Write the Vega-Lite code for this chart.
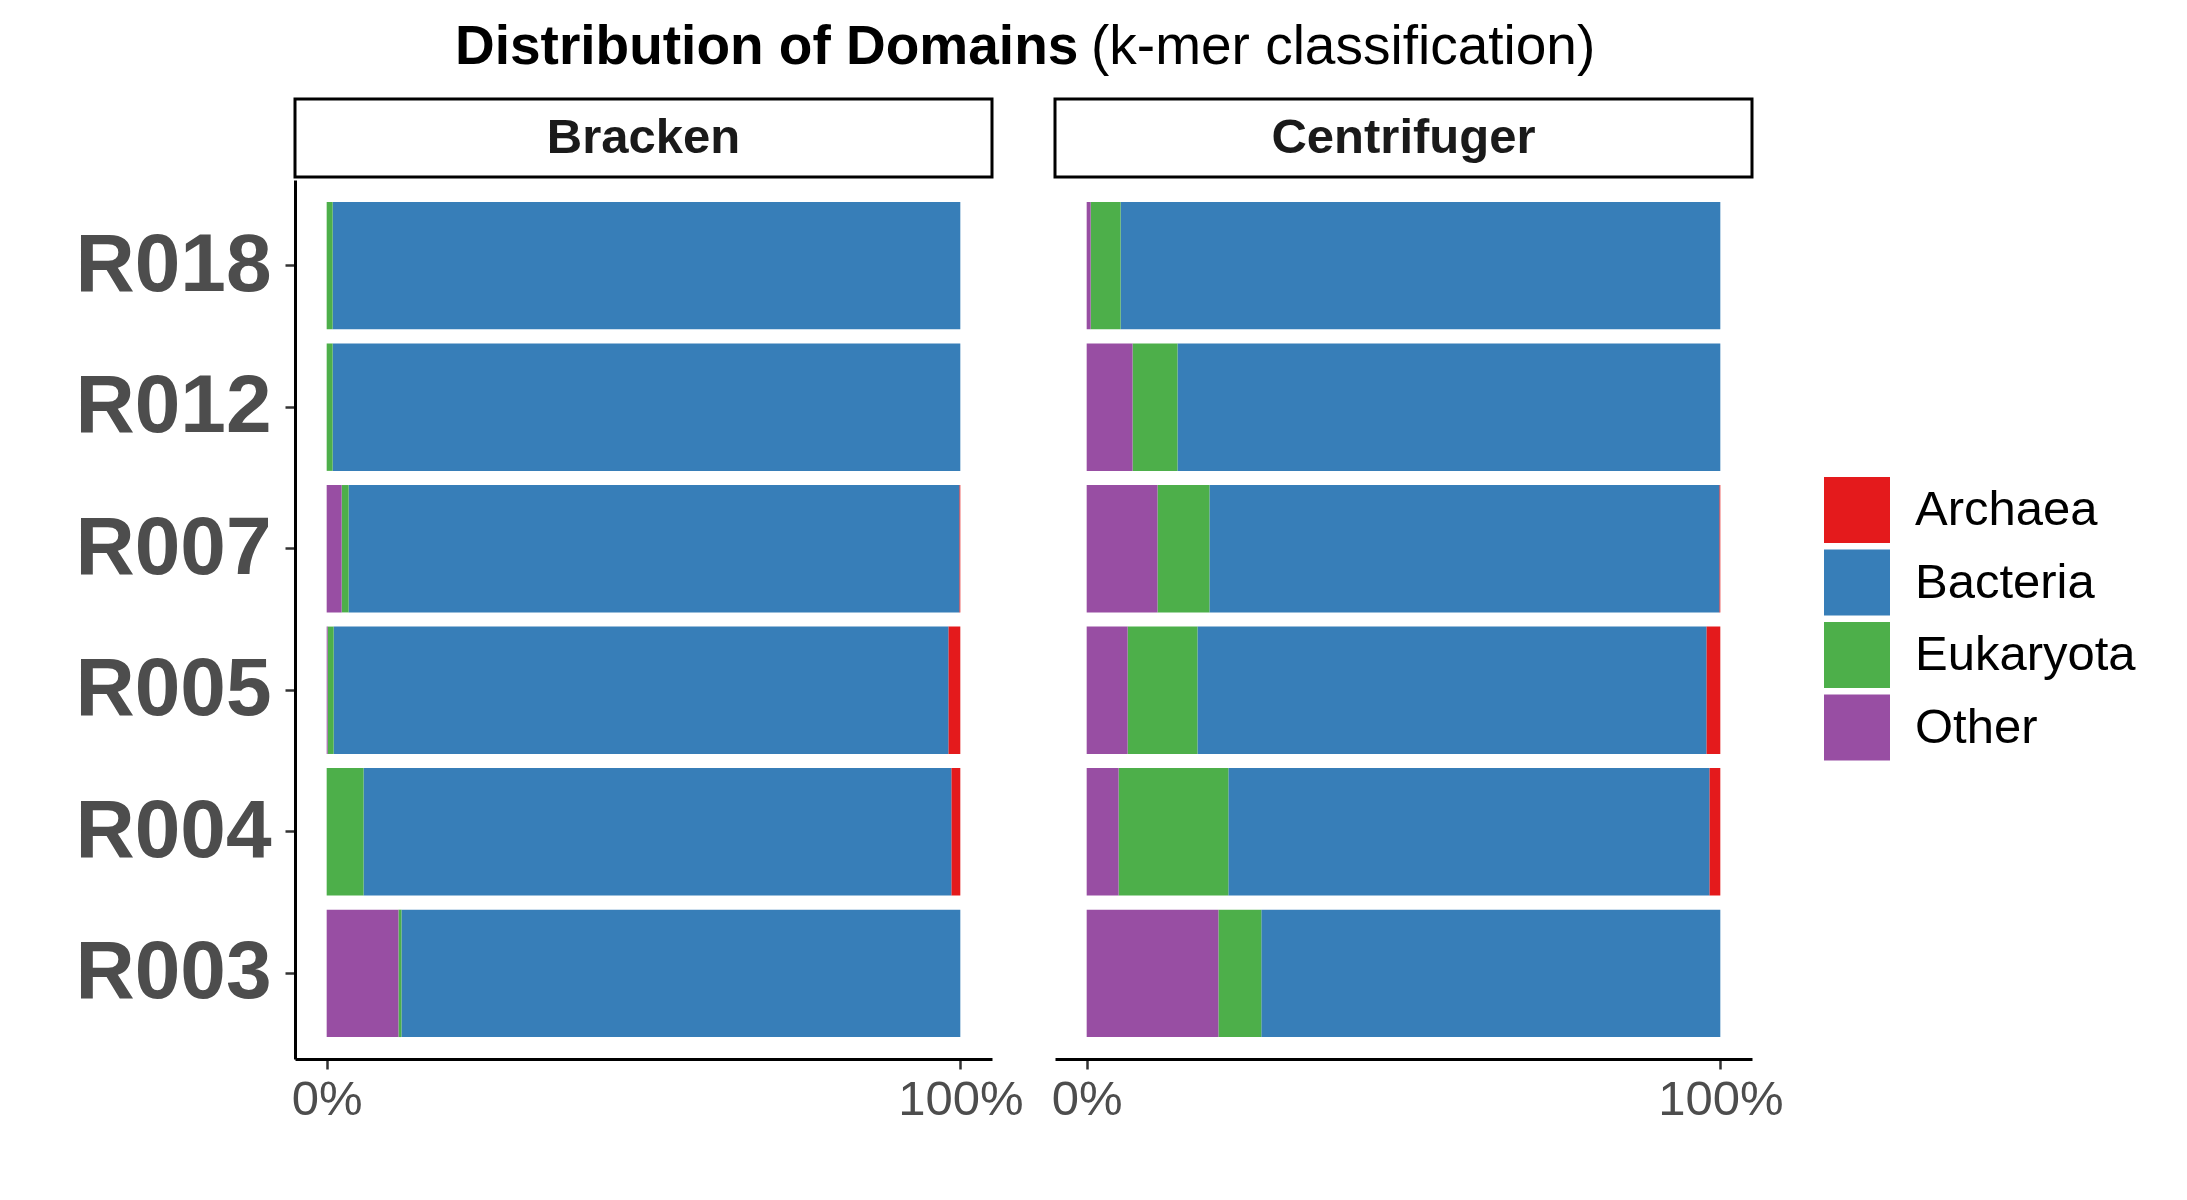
{
  "$schema": "https://vega.github.io/schema/vega-lite/v6.json",
  "background": "white",
  "padding": {"left": 74, "top": 18, "right": 5, "bottom": 5},
  "datasets": {
    "domains": [
      {"method": "Bracken", "sample": "R018", "domain": "Archaea", "share": 0.0},
      {"method": "Bracken", "sample": "R018", "domain": "Bacteria", "share": 0.9906},
      {"method": "Bracken", "sample": "R018", "domain": "Eukaryota", "share": 0.0094},
      {"method": "Bracken", "sample": "R018", "domain": "Other", "share": 0.0},
      {"method": "Bracken", "sample": "R012", "domain": "Archaea", "share": 0.0},
      {"method": "Bracken", "sample": "R012", "domain": "Bacteria", "share": 0.9906},
      {"method": "Bracken", "sample": "R012", "domain": "Eukaryota", "share": 0.0094},
      {"method": "Bracken", "sample": "R012", "domain": "Other", "share": 0.0},
      {"method": "Bracken", "sample": "R007", "domain": "Archaea", "share": 0.0016},
      {"method": "Bracken", "sample": "R007", "domain": "Bacteria", "share": 0.9638},
      {"method": "Bracken", "sample": "R007", "domain": "Eukaryota", "share": 0.011},
      {"method": "Bracken", "sample": "R007", "domain": "Other", "share": 0.0236},
      {"method": "Bracken", "sample": "R005", "domain": "Archaea", "share": 0.0189},
      {"method": "Bracken", "sample": "R005", "domain": "Bacteria", "share": 0.9701},
      {"method": "Bracken", "sample": "R005", "domain": "Eukaryota", "share": 0.0094},
      {"method": "Bracken", "sample": "R005", "domain": "Other", "share": 0.0016},
      {"method": "Bracken", "sample": "R004", "domain": "Archaea", "share": 0.0142},
      {"method": "Bracken", "sample": "R004", "domain": "Bacteria", "share": 0.9276},
      {"method": "Bracken", "sample": "R004", "domain": "Eukaryota", "share": 0.0582},
      {"method": "Bracken", "sample": "R004", "domain": "Other", "share": 0.0},
      {"method": "Bracken", "sample": "R003", "domain": "Archaea", "share": 0.0},
      {"method": "Bracken", "sample": "R003", "domain": "Bacteria", "share": 0.882},
      {"method": "Bracken", "sample": "R003", "domain": "Eukaryota", "share": 0.0047},
      {"method": "Bracken", "sample": "R003", "domain": "Other", "share": 0.1133},
      {"method": "Centrifuger", "sample": "R018", "domain": "Archaea", "share": 0.0},
      {"method": "Centrifuger", "sample": "R018", "domain": "Bacteria", "share": 0.9465},
      {"method": "Centrifuger", "sample": "R018", "domain": "Eukaryota", "share": 0.0472},
      {"method": "Centrifuger", "sample": "R018", "domain": "Other", "share": 0.0063},
      {"method": "Centrifuger", "sample": "R012", "domain": "Archaea", "share": 0.0},
      {"method": "Centrifuger", "sample": "R012", "domain": "Bacteria", "share": 0.8567},
      {"method": "Centrifuger", "sample": "R012", "domain": "Eukaryota", "share": 0.0709},
      {"method": "Centrifuger", "sample": "R012", "domain": "Other", "share": 0.0724},
      {"method": "Centrifuger", "sample": "R007", "domain": "Archaea", "share": 0.0016},
      {"method": "Centrifuger", "sample": "R007", "domain": "Bacteria", "share": 0.8047},
      {"method": "Centrifuger", "sample": "R007", "domain": "Eukaryota", "share": 0.0819},
      {"method": "Centrifuger", "sample": "R007", "domain": "Other", "share": 0.1118},
      {"method": "Centrifuger", "sample": "R005", "domain": "Archaea", "share": 0.022},
      {"method": "Centrifuger", "sample": "R005", "domain": "Bacteria", "share": 0.8032},
      {"method": "Centrifuger", "sample": "R005", "domain": "Eukaryota", "share": 0.1102},
      {"method": "Centrifuger", "sample": "R005", "domain": "Other", "share": 0.0646},
      {"method": "Centrifuger", "sample": "R004", "domain": "Archaea", "share": 0.0173},
      {"method": "Centrifuger", "sample": "R004", "domain": "Bacteria", "share": 0.7591},
      {"method": "Centrifuger", "sample": "R004", "domain": "Eukaryota", "share": 0.1732},
      {"method": "Centrifuger", "sample": "R004", "domain": "Other", "share": 0.0504},
      {"method": "Centrifuger", "sample": "R003", "domain": "Archaea", "share": 0.0},
      {"method": "Centrifuger", "sample": "R003", "domain": "Bacteria", "share": 0.7244},
      {"method": "Centrifuger", "sample": "R003", "domain": "Eukaryota", "share": 0.0677},
      {"method": "Centrifuger", "sample": "R003", "domain": "Other", "share": 0.2079}
    ]
  },
  "columns": 2,
  "spacing": {"row": 3, "column": 63},
  "bounds": "flush",
  "align": "each",
  "concat": [
    {
      "width": 697,
      "height": 78,
      "title": {"text": "Distribution of Domains", "anchor": "start", "frame": "group", "dx": 160, "offset": 23, "font": "Liberation Sans", "fontSize": 55, "fontWeight": "bold", "color": "black"},
      "data": {"values": [{"method": "Bracken"}]},
      "view": {"stroke": "black", "strokeWidth": 3, "fill": "white"},
      "mark": {"type": "text", "font": "Liberation Sans", "fontSize": 49, "fontWeight": "bold", "color": "#1A1A1A"},
      "encoding": {"text": {"field": "method"}}
    },
    {
      "width": 697,
      "height": 78,
      "title": {"text": "(k-mer classification)", "anchor": "start", "frame": "group", "dx": 36, "offset": 23, "font": "Liberation Sans", "fontSize": 55, "fontWeight": "normal", "color": "black"},
      "data": {"values": [{"method": "Centrifuger"}]},
      "view": {"stroke": "black", "strokeWidth": 3, "fill": "white"},
      "mark": {"type": "text", "font": "Liberation Sans", "fontSize": 49, "fontWeight": "bold", "color": "#1A1A1A"},
      "encoding": {"text": {"field": "method"}}
    },
    {
      "width": 697,
      "height": 879,
      "data": {"name": "domains"},
      "transform": [{"filter": "datum.method === 'Bracken'"}],
      "mark": {"type": "bar"},
      "encoding": {
        "y": {
          "field": "sample", "type": "nominal",
          "sort": ["R018", "R012", "R007", "R005", "R004", "R003"],
          "scale": {"paddingInner": 0.1, "paddingOuter": 0.155},
          "axis": {"title": null, "labelFont": "Liberation Sans", "labelFontSize": 82, "labelFontWeight": "bold", "labelColor": "#4D4D4D", "labelPadding": 14, "labelLimit": 0, "tickColor": "#333333", "tickWidth": 2.5, "tickSize": 10, "domainColor": "black", "domainWidth": 3, "grid": false}
        },
        "x": {
          "field": "share", "type": "quantitative", "stack": "zero",
          "scale": {"domain": [-0.05, 1.05], "nice": false, "zero": false},
          "axis": {"values": [0, 1], "format": ".0%", "title": null, "labelFont": "Liberation Sans", "labelFontSize": 49, "labelColor": "#4D4D4D", "labelPadding": 6, "labelFlush": false, "tickColor": "#333333", "tickWidth": 2.5, "tickSize": 10, "domainColor": "black", "domainWidth": 3, "grid": false}
        },
        "color": {
          "field": "domain", "type": "nominal",
          "scale": {"domain": ["Archaea", "Bacteria", "Eukaryota", "Other"], "range": ["#E41A1C", "#377EB8", "#4DAF4A", "#984EA3"]},
          "legend": {"title": null}
        },
        "order": {"field": "domain", "type": "ordinal", "sort": "descending"}
      }
    },
    {
      "width": 697,
      "height": 879,
      "data": {"name": "domains"},
      "transform": [{"filter": "datum.method === 'Centrifuger'"}],
      "mark": {"type": "bar"},
      "encoding": {
        "y": {
          "field": "sample", "type": "nominal",
          "sort": ["R018", "R012", "R007", "R005", "R004", "R003"],
          "scale": {"paddingInner": 0.1, "paddingOuter": 0.155},
          "axis": null
        },
        "x": {
          "field": "share", "type": "quantitative", "stack": "zero",
          "scale": {"domain": [-0.05, 1.05], "nice": false, "zero": false},
          "axis": {"values": [0, 1], "format": ".0%", "title": null, "labelFont": "Liberation Sans", "labelFontSize": 49, "labelColor": "#4D4D4D", "labelPadding": 6, "labelFlush": false, "tickColor": "#333333", "tickWidth": 2.5, "tickSize": 10, "domainColor": "black", "domainWidth": 3, "grid": false}
        },
        "color": {
          "field": "domain", "type": "nominal",
          "scale": {"domain": ["Archaea", "Bacteria", "Eukaryota", "Other"], "range": ["#E41A1C", "#377EB8", "#4DAF4A", "#984EA3"]},
          "legend": {"title": null}
        },
        "order": {"field": "domain", "type": "ordinal", "sort": "descending"}
      }
    }
  ],
  "resolve": {"scale": {"x": "independent", "y": "independent", "color": "shared"}},
  "config": {
    "font": "Liberation Sans",
    "view": {"stroke": null},
    "legend": {
      "orient": "none",
      "legendX": 1529,
      "legendY": 378,
      "symbolType": "square",
      "symbolSize": 4356,
      "symbolStrokeWidth": 0,
      "symbolOpacity": 1,
      "labelFont": "Liberation Sans",
      "labelFontSize": 49,
      "labelColor": "black",
      "labelOffset": 25,
      "rowPadding": 6.5,
      "labelLimit": 0
    }
  }
}
